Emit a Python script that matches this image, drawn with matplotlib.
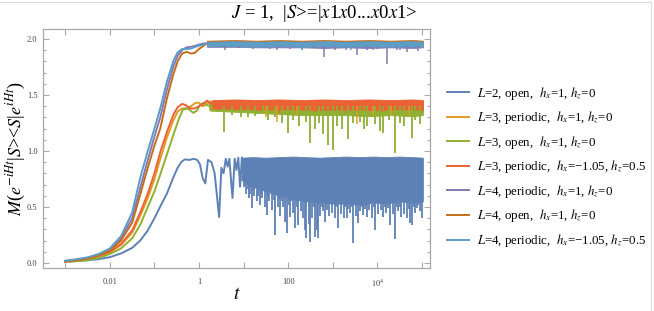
import numpy as np
import matplotlib.pyplot as plt
from matplotlib.lines import Line2D

plt.rcParams['font.family'] = ['Liberation Serif', 'DejaVu Serif']
plt.rcParams['mathtext.fontset'] = 'stix'

# legend labels / colours (Mathematica 97 palette)
labels = [r'$L$=2, open,  $h_x$=1, $h_z$=0',
          r'$L$=3, periodic,  $h_x$=1, $h_z$=0',
          r'$L$=3, open,  $h_x$=1, $h_z$=0',
          r'$L$=3, periodic,  $h_x$=' + '\u2212' + r'1.05, $h_z$=0.5',
          r'$L$=4, periodic,  $h_x$=1, $h_z$=0',
          r'$L$=4, open,  $h_x$=1, $h_z$=0',
          r'$L$=4, periodic,  $h_x$=' + '\u2212' + r'1.05, $h_z$=0.5']
colors = ['#5E81B5', '#E19C24', '#8FB032', '#EB6235', '#8778B3', '#C56E1A', '#5D9EC7']

# ---- L=2 open (blue) ----  x values are log10(t)
blue_rise_lt = [-3.0, -2.75, -2.5, -2.25, -2.0, -1.75, -1.5, -1.32, -1.15, -1.0, -0.85, -0.72, -0.58,
                -0.48, -0.4, -0.32, -0.22, -0.12, -0.04, 0.02, 0.08, 0.14, 0.2, 0.28, 0.35, 0.45, 0.5,
                0.55, 0.6, 0.64, 0.68, 0.75, 0.8, 0.84, 0.88, 0.92, 0.96]
blue_rise_y = [0.012, 0.017, 0.024, 0.034, 0.052, 0.085, 0.135, 0.2, 0.29, 0.4, 0.52, 0.62, 0.76,
               0.85, 0.9, 0.925, 0.92, 0.93, 0.92, 0.88, 0.76, 0.71, 0.92, 0.9, 0.8, 0.41, 0.85,
               0.8, 0.93, 0.86, 0.93, 0.58, 0.93, 0.83, 0.94, 0.68, 0.94]
blue_band_lt = [0.95, 1.2, 1.5, 1.8, 2.1, 2.4, 2.7, 3.0, 3.3, 3.6, 3.9, 4.2, 4.5, 4.8, 5.02]
blue_band_top = [0.94, 0.945, 0.94, 0.945, 0.95, 0.945, 0.94, 0.945, 0.95, 0.945, 0.95, 0.945, 0.95, 0.945, 0.94]
blue_band_bot = [0.74, 0.68, 0.64, 0.6, 0.57, 0.55, 0.54, 0.53, 0.53, 0.52, 0.54, 0.53, 0.55, 0.54, 0.55]
blue_spike_lt = [1.0, 1.05, 1.09, 1.12, 1.15, 1.18, 1.21, 1.24, 1.29, 1.33, 1.36, 1.39, 1.42, 1.47,
                 1.52, 1.55, 1.58, 1.64, 1.67, 1.70, 1.76, 1.79, 1.82, 1.85, 1.88, 1.93, 1.98,
                 2.01, 2.04, 2.07, 2.1, 2.15, 2.19, 2.22, 2.28, 2.33, 2.38, 2.41, 2.46, 2.49,
                 2.54, 2.57, 2.6, 2.64, 2.67, 2.72, 2.75, 2.78, 2.83, 2.86, 2.92, 2.98, 3.04,
                 3.08, 3.12, 3.18, 3.24, 3.27, 3.31, 3.34, 3.38, 3.42, 3.46, 3.52, 3.57, 3.61,
                 3.65, 3.68, 3.72, 3.76, 3.82, 3.88, 3.92, 3.95, 4.02, 4.08, 4.13, 4.17, 4.2,
                 4.24, 4.28, 4.34, 4.39, 4.43, 4.46, 4.5, 4.54, 4.6, 4.66, 4.7, 4.73, 4.77,
                 4.81, 4.84, 4.88, 4.91, 4.95, 4.99]
blue_spike_y = [0.68, 0.62, 0.66, 0.58, 0.62, 0.49, 0.64, 0.6, 0.55, 0.6, 0.52, 0.62, 0.58, 0.5,
                0.43, 0.6, 0.55, 0.47, 0.56, 0.25, 0.5, 0.57, 0.42, 0.55, 0.5, 0.37, 0.27,
                0.52, 0.41, 0.55, 0.45, 0.31, 0.5, 0.34, 0.46, 0.4, 0.29, 0.22, 0.35, 0.19,
                0.4, 0.5, 0.23, 0.29, 0.22, 0.42, 0.5, 0.46, 0.37, 0.47, 0.42, 0.45, 0.4,
                0.5, 0.31, 0.44, 0.4, 0.5, 0.4, 0.48, 0.45, 0.5, 0.18, 0.42, 0.36, 0.46,
                0.5, 0.43, 0.48, 0.41, 0.47, 0.4, 0.5, 0.29, 0.44, 0.47, 0.41, 0.5, 0.45,
                0.49, 0.34, 0.44, 0.21, 0.5, 0.46, 0.5, 0.41, 0.44, 0.4, 0.48, 0.36, 0.34,
                0.5, 0.45, 0.49, 0.52, 0.46, 0.4]
blue_floor = 0.93

# ---- L=3 periodic hx=1 (yellow-orange) ----
yel_rise_lt = [-3.0, -2.75, -2.5, -2.25, -2.0, -1.75, -1.5, -1.32, -1.15, -1.0, -0.87, -0.72, -0.58,
               -0.48, -0.38, -0.28, -0.18, -0.08, 0.0, 0.08, 0.15, 0.22]
yel_rise_y = [0.012, 0.02, 0.035, 0.06, 0.095, 0.16, 0.27, 0.42, 0.58, 0.75, 0.93, 1.12, 1.27,
              1.35, 1.38, 1.38, 1.4, 1.43, 1.43, 1.4, 1.41, 1.44]
yel_band_lt = [0.22, 0.8, 1.3, 1.8, 2.3, 2.8, 3.3, 3.8, 4.3, 4.8, 5.02]
yel_band_top = [1.45, 1.45, 1.455, 1.45, 1.45, 1.455, 1.45, 1.45, 1.455, 1.45, 1.45]
yel_band_bot = [1.37, 1.36, 1.36, 1.35, 1.35, 1.35, 1.35, 1.35, 1.35, 1.35, 1.35]
yel_spike_lt = [0.25, 1.5, 1.75, 2.2, 2.6, 3.2, 3.55, 3.9, 4.3, 4.7]
yel_spike_y = [1.38, 1.3, 1.26, 1.33, 1.32, 1.33, 1.24, 1.32, 1.32, 1.3]
yel_floor = 1.4

# ---- L=3 open (green) ----
grn_rise_lt = [-3.0, -2.75, -2.5, -2.25, -2.0, -1.75, -1.5, -1.32, -1.15, -1.0, -0.87, -0.72, -0.58,
               -0.45, -0.36, -0.25, -0.13, -0.05, 0.02, 0.1, 0.17, 0.25]
grn_rise_y = [0.01, 0.016, 0.025, 0.045, 0.08, 0.13, 0.22, 0.34, 0.5, 0.64, 0.79, 0.97, 1.14,
              1.29, 1.37, 1.38, 1.34, 1.36, 1.41, 1.43, 1.41, 1.4]
grn_band_lt = [0.25, 0.8, 1.3, 1.8, 2.3, 2.8, 3.3, 3.8, 4.3, 4.8, 5.02]
grn_band_top = [1.44, 1.44, 1.44, 1.445, 1.44, 1.44, 1.445, 1.44, 1.44, 1.44, 1.44]
grn_band_bot = [1.36, 1.35, 1.34, 1.33, 1.32, 1.32, 1.32, 1.31, 1.32, 1.31, 1.32]
grn_spike_lt = [0.56, 0.75, 0.95, 1.1, 1.25, 1.44, 1.55, 1.7, 1.85, 2.0, 2.1, 2.25, 2.4, 2.49,
                2.6, 2.7, 2.78, 2.9, 3.0, 3.1, 3.2, 3.33, 3.45, 3.61, 3.7, 3.76, 3.95, 4.05,
                4.13, 4.25, 4.4, 4.5, 4.6, 4.78, 4.85, 4.95]
grn_spike_y = [1.17, 1.32, 1.3, 1.3, 1.31, 1.34, 1.28, 1.3, 1.25, 1.16, 1.28, 1.22, 1.26, 1.07,
               1.2, 1.25, 1.15, 1.05, 1.01, 1.22, 1.2, 1.11, 1.25, 1.26, 1.2, 1.22, 1.24, 1.18,
               1.16, 1.28, 0.98, 1.25, 1.22, 1.12, 1.28, 1.24]
grn_floor = 1.4

# ---- L=3 periodic hx=-1.05 (red-orange) ----
red_rise_lt = [-3.0, -2.75, -2.5, -2.25, -2.0, -1.75, -1.5, -1.32, -1.15, -1.0, -0.87, -0.72, -0.58,
               -0.48, -0.38, -0.3, -0.2, -0.1, 0.0, 0.09, 0.18, 0.25, 0.3]
red_rise_y = [0.015, 0.025, 0.04, 0.065, 0.1, 0.17, 0.29, 0.45, 0.62, 0.8, 0.99, 1.17, 1.32,
              1.39, 1.42, 1.41, 1.38, 1.38, 1.4, 1.42, 1.45, 1.42, 1.43]
red_band_lt = [0.3, 0.8, 1.3, 1.8, 2.3, 2.8, 3.3, 3.8, 4.3, 4.8, 5.02]
red_band_top = [1.455, 1.46, 1.455, 1.46, 1.455, 1.46, 1.455, 1.46, 1.455, 1.46, 1.455]
red_band_bot = [1.38, 1.375, 1.37, 1.37, 1.37, 1.365, 1.37, 1.365, 1.37, 1.37, 1.37]
red_spike_lt = [1.8, 2.6, 3.3, 4.1]
red_spike_y = [1.34, 1.35, 1.34, 1.35]
red_floor = 1.42

# ---- L=4 periodic hx=1 (purple) ----
pur_rise_lt = [-3.0, -2.75, -2.5, -2.25, -2.0, -1.75, -1.5, -1.32, -1.15, -1.0, -0.87, -0.72, -0.58,
               -0.48, -0.38, -0.28, -0.18, -0.08, 0.0, 0.1, 0.18]
pur_rise_y = [0.018, 0.03, 0.045, 0.075, 0.12, 0.22, 0.4, 0.67, 0.92, 1.13, 1.3, 1.55, 1.75,
              1.85, 1.9, 1.925, 1.93, 1.94, 1.95, 1.96, 1.96]
pur_band_lt = [0.18, 0.8, 1.3, 1.8, 2.3, 2.8, 3.3, 3.8, 4.3, 4.8, 5.02]
pur_band_top = [1.97, 1.975, 1.97, 1.975, 1.97, 1.975, 1.97, 1.975, 1.97, 1.975, 1.97]
pur_band_bot = [1.93, 1.93, 1.925, 1.925, 1.925, 1.92, 1.925, 1.92, 1.925, 1.92, 1.925]
pur_spike_lt = [0.58, 0.9, 1.2, 1.5, 1.75, 2.05, 2.3, 2.55, 2.8, 3.05, 3.3, 3.54, 3.76, 4.0,
                4.22, 4.45, 4.66, 4.9]
pur_spike_y = [1.9, 1.92, 1.91, 1.92, 1.9, 1.91, 1.9, 1.92, 1.84, 1.9, 1.9, 1.86, 1.9, 1.91,
               1.78, 1.9, 1.88, 1.89]
pur_floor = 1.94

# ---- L=4 open (dark orange) ----
org_rise_lt = [-3.0, -2.75, -2.5, -2.25, -2.0, -1.75, -1.5, -1.32, -1.15, -1.0, -0.87, -0.72, -0.58,
               -0.48, -0.38, -0.28, -0.18, -0.1, 0.0, 0.1, 0.18]
org_rise_y = [0.015, 0.025, 0.04, 0.07, 0.11, 0.2, 0.36, 0.61, 0.85, 1.05, 1.2, 1.47, 1.68,
              1.8, 1.87, 1.885, 1.87, 1.875, 1.91, 1.94, 1.96]
org_band_lt = [0.18, 0.8, 1.3, 1.8, 2.3, 2.8, 3.3, 3.8, 4.3, 4.8, 5.02]
org_band_top = [1.985, 1.99, 1.985, 1.99, 1.985, 1.99, 1.985, 1.99, 1.985, 1.99, 1.985]
org_band_bot = [1.94, 1.94, 1.935, 1.94, 1.935, 1.94, 1.935, 1.94, 1.935, 1.94, 1.935]

# ---- L=4 periodic hx=-1.05 (light blue) ----
cya_rise_lt = [-3.0, -2.75, -2.5, -2.25, -2.0, -1.75, -1.5, -1.32, -1.15, -1.0, -0.87, -0.72, -0.58,
               -0.48, -0.38, -0.28, -0.18, -0.08, 0.0, 0.1, 0.18]
cya_rise_y = [0.02, 0.033, 0.05, 0.08, 0.13, 0.24, 0.45, 0.76, 1.0, 1.2, 1.38, 1.62, 1.8,
              1.88, 1.91, 1.91, 1.915, 1.93, 1.94, 1.95, 1.96]
cya_band_lt = [0.18, 0.8, 1.3, 1.8, 2.3, 2.8, 3.3, 3.8, 4.3, 4.8, 5.02]
cya_band_top = [1.975, 1.98, 1.975, 1.98, 1.975, 1.98, 1.975, 1.98, 1.975, 1.98, 1.975]
cya_band_bot = [1.935, 1.935, 1.93, 1.935, 1.93, 1.935, 1.93, 1.935, 1.93, 1.935, 1.93]
cya_spike_lt = [1.0, 1.6, 2.3, 2.9, 3.4, 3.9, 4.5, 4.8]
cya_spike_y = [1.92, 1.91, 1.9, 1.91, 1.9, 1.9, 1.9, 1.91]
cya_floor = 1.95


def draw(ax, color, label, rise_lt, rise_y, band_lt, band_top, band_bot,
         spike_lt=None, spike_y=None, floor=None, spike_lw=1.1):
    ax.plot(10 ** np.array(rise_lt), rise_y, color=color, lw=1.4, label=label,
            solid_joinstyle='round')
    ax.fill_between(10 ** np.array(band_lt), band_bot, band_top, color=color, lw=0.6)
    if spike_lt is not None:
        ax.vlines(10 ** np.array(spike_lt), spike_y, floor, color=color, lw=spike_lw)


fig = plt.figure(figsize=(6.54, 3.11), dpi=100)
ax = fig.add_axes([43 / 654, 1 - 268 / 311, (430 - 43) / 654, (268 - 29) / 311])

draw(ax, colors[0], labels[0], blue_rise_lt, blue_rise_y, blue_band_lt, blue_band_top,
     blue_band_bot, blue_spike_lt, blue_spike_y, blue_floor, spike_lw=1.3)
draw(ax, colors[1], labels[1], yel_rise_lt, yel_rise_y, yel_band_lt, yel_band_top,
     yel_band_bot, yel_spike_lt, yel_spike_y, yel_floor)
draw(ax, colors[2], labels[2], grn_rise_lt, grn_rise_y, grn_band_lt, grn_band_top,
     grn_band_bot, grn_spike_lt, grn_spike_y, grn_floor, spike_lw=1.3)
draw(ax, colors[3], labels[3], red_rise_lt, red_rise_y, red_band_lt, red_band_top,
     red_band_bot, red_spike_lt, red_spike_y, red_floor)
draw(ax, colors[4], labels[4], pur_rise_lt, pur_rise_y, pur_band_lt, pur_band_top,
     pur_band_bot, pur_spike_lt, pur_spike_y, pur_floor)
draw(ax, colors[5], labels[5], org_rise_lt, org_rise_y, org_band_lt, org_band_top,
     org_band_bot)
draw(ax, colors[6], labels[6], cya_rise_lt, cya_rise_y, cya_band_lt, cya_band_top,
     cya_band_bot, cya_spike_lt, cya_spike_y, cya_floor)

ax.set_xscale('log')
ax.set_xlim(10 ** -3.5, 10 ** 5.18)
ax.set_ylim(-0.045, 2.089)

frame = '#a8a8a8'
for s in ax.spines.values():
    s.set_color(frame)
    s.set_linewidth(0.9)

xt = [10.0 ** k for k in range(-3, 6)]
ax.set_xticks(xt)
ax.set_xticklabels(['', '0.01', '', '1', '', '100', '', r'$10^4$', ''])
ax.xaxis.set_minor_locator(plt.NullLocator())
ax.set_yticks([0, 0.5, 1.0, 1.5, 2.0])
ax.set_yticklabels(['0.0', '0.5', '1.0', '1.5', '2.0'])
ax.set_yticks(np.arange(0, 2.05, 0.1), minor=True)
ax.tick_params(which='both', direction='in', top=True, right=True, color=frame,
               labelsize=6, labelcolor='#444444', width=0.8)
ax.tick_params(which='major', length=4.5, pad=4)
ax.tick_params(axis='x', which='major', pad=7)
ax.tick_params(which='minor', length=2.5)

ax.set_xlabel(r'$t$', fontsize=14)
ax.xaxis.set_label_coords(0.5, -0.075)
ax.set_ylabel(r'$M$($e^{-iHt}$|$S$><$S$|$e^{iHt}$)', fontsize=13, va='center')
ax.yaxis.set_label_coords(-0.068, 0.5)
fig.text(0.496, 1 - 13 / 311, r'$J$ = 1,  |$S$>=|$x$1$x$0...$x$0$x$1>', ha='center', va='center',
         fontsize=13.5)

ax.legend(loc='center left', bbox_to_anchor=(447 / 654, 1 - 167 / 311),
          bbox_transform=fig.transFigure, frameon=False, fontsize=9.3, borderpad=0,
          borderaxespad=0, handlelength=1.7, handletextpad=0.6, labelspacing=0.6)

# outer border of the screenshot
fig.add_artist(Line2D([0, 651 / 654], [1 - 2 / 311, 1 - 2 / 311], color='#dddddd', lw=0.8))
fig.add_artist(Line2D([651 / 654, 651 / 654], [0, 1 - 2 / 311], color='#dddddd', lw=0.8))

fig.savefig('out.png', dpi=100)
